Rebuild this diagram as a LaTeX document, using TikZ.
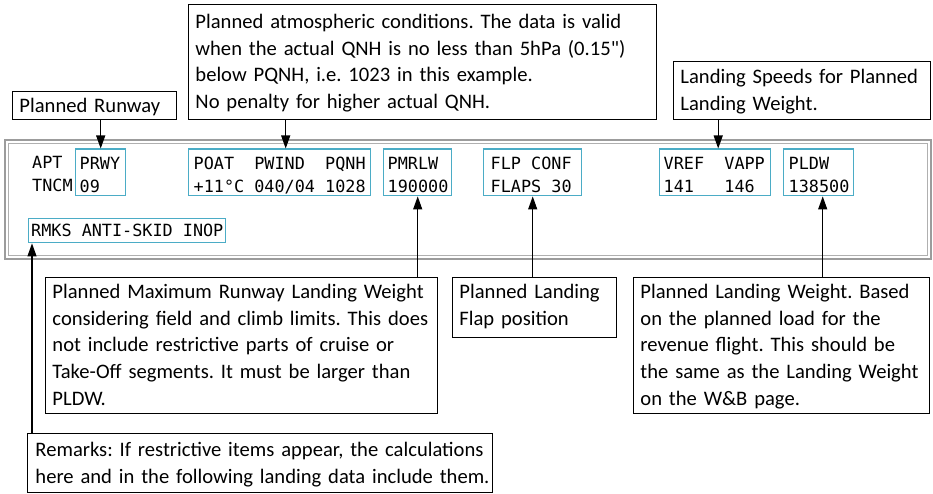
\documentclass[tikz,border=0pt]{standalone}
\usepackage{fontspec}
\newfontfamily\notefont{Carlito}
\newfontfamily\monof{DejaVu Sans Mono}
\newcommand\msp{\hphantom{0}}
\usetikzlibrary{arrows.meta}
\definecolor{boxblue}{HTML}{4BACC6}
\definecolor{framegray}{HTML}{9C9C9C}
\begin{document}
\frenchspacing
\begin{tikzpicture}[x=1pt,y=-1pt,
  mbox/.style={draw=boxblue, line width=1.4pt, anchor=north west, align=left,
    inner xsep=4pt, inner ysep=0pt, text height=20.5pt, text depth=26pt,
    font=\monof\fontsize{16.8}{23}\selectfont},
  mtext/.style={anchor=base west, align=left, inner sep=0pt, text width=45pt,
    font=\monof\fontsize{16.8}{23}\selectfont},
  note/.style={draw=black, line width=0.9pt, anchor=north west, align=left,
    inner xsep=7pt, inner ysep=0pt, font=\notefont\fontsize{20.6}{26.7}\selectfont},
  arr/.style={-{Triangle[length=13pt,width=9pt]}, line width=1.1pt}]
\path[use as bounding box, fill=white] (0,0) rectangle (933,494);
% frame
\draw[framegray, line width=1.6pt] (5,140) rectangle (931,259);
\draw[framegray!80, line width=1pt] (8.5,143.5) rectangle (927.5,255.5);
% data
\node[mtext] (apt) at (32,169) {APT\\TNCM};
\node[mbox, text width=42pt] (prwy) at (75,148.5) {PRWY\\09};
\node[mbox, inner xsep=5pt, text width=172pt] (poat) at (188,148.5)
  {\mbox{POAT\msp\msp PWIND\msp\msp PQNH}\\\mbox{+11°C\msp 040/04\msp 1028}};
\node[mbox, text width=60pt] (pmrlw) at (383,148.5) {PMRLW\\190000};
\node[mbox, inner xsep=7pt, text width=84pt] (flp) at (483,148.5)
  {\mbox{FLP\msp CONF}\\\mbox{FLAPS\msp 30}};
\node[mbox, text width=103pt] (vref) at (659,148.5)
  {\mbox{VREF\msp\msp VAPP}\\\mbox{141\msp\msp\msp 146}};
\node[mbox, inner xsep=5pt, text width=60pt] (pldw) at (783,148.5) {PLDW\\138500};
\node[mbox, inner xsep=2.5pt, text width=192pt, text height=18pt, text depth=6pt] (rmks) at (28,218)
  {\mbox{RMKS\msp ANTI-SKID\msp INOP}};
% callouts top
\node[note, text width=150pt, text height=21pt, text depth=7pt] (runway) at (12,91)
  {\mbox{Planned Runway}};
\node[note, text width=454pt, text height=24pt, text depth=91pt] (atmos) at (188,4)
  {\mbox{Planned atmospheric conditions. The data is valid}\\
   \mbox{when the actual QNH is no less than 5hPa (0.15")}\\
   \mbox{below PQNH, i.e. 1023 in this example.}\\
   \mbox{No penalty for higher actual QNH.}};
\node[note, text width=243pt, text height=22pt, text depth=36pt] (speeds) at (673,61)
  {\mbox{Landing Speeds for Planned}\\\mbox{Landing Weight.}};
% callouts bottom
\node[note, text width=378pt, text height=21pt, text depth=115pt] (pmrlwnote) at (45,277)
  {\mbox{Planned Maximum Runway Landing Weight}\\
   \mbox{considering field and climb limits. This does}\\
   \mbox{not include restrictive parts of cruise or}\\
   \mbox{Take-Off segments. It must be larger than}\\
   \mbox{PLDW.}};
\node[note, text width=150pt, text height=21pt, text depth=39pt] (flpnote) at (452,277)
  {\mbox{Planned Landing}\\\mbox{Flap position}};
\node[note, text width=282pt, text height=21pt, text depth=115pt] (pldwnote) at (633,277)
  {\mbox{Planned Landing Weight. Based}\\
   \mbox{on the planned load for the}\\
   \mbox{revenue flight. This should be}\\
   \mbox{the same as the Landing Weight}\\
   \mbox{on the W\&B page.}};
\node[note, inner xsep=8pt, text width=449pt, text height=23pt, text depth=36pt] (rmksnote) at (27,433)
  {\mbox{Remarks: If restrictive items appear, the calculations}\\
   \mbox{here and in the following landing data include them.}};
% arrows
\draw[arr] (prwy.north |- runway.south) -- (prwy.north);
\draw[arr] ([xshift=6pt]poat.north |- atmos.south) -- ([xshift=6pt]poat.north);
\draw[arr] ([xshift=3pt]vref.north |- speeds.south) -- ([xshift=3pt]vref.north);
\draw[arr] (pmrlw.south |- pmrlwnote.north) -- (pmrlw.south);
\draw[arr] (flp.south |- flpnote.north) -- (flp.south);
\draw[arr] ([xshift=4pt]pldw.south |- pldwnote.north) -- ([xshift=4pt]pldw.south);
\draw[arr] ([xshift=4pt]rmks.south west |- rmksnote.north) -- ([xshift=4pt]rmks.south west);
\end{tikzpicture}
\end{document}
